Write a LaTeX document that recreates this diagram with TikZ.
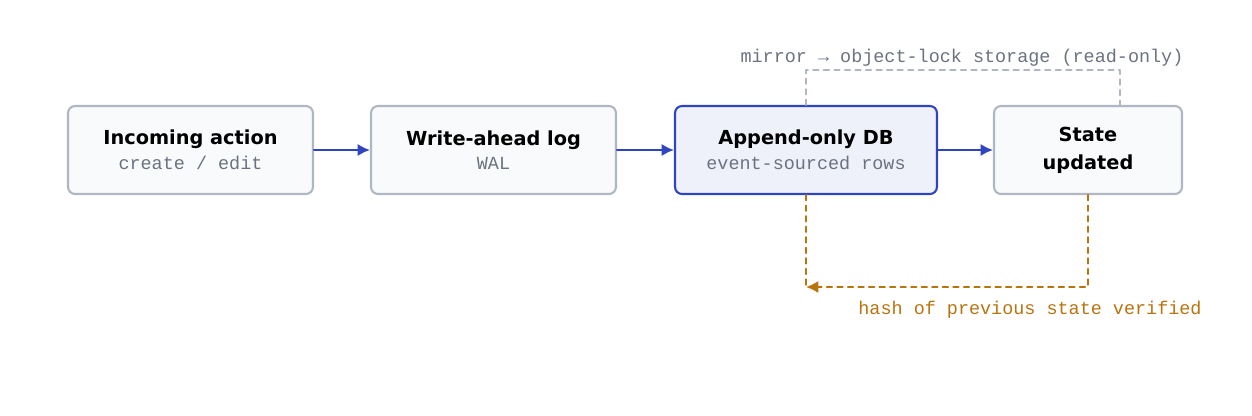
\documentclass[tikz,border=0pt]{standalone}
\usepackage{fontspec}
\setmainfont{DejaVu Sans}
\newfontfamily\monofont{Liberation Mono}
\usetikzlibrary{positioning}
\usetikzlibrary{arrows.meta}
\definecolor{boxline}{HTML}{B0B7C3}
\definecolor{boxfill}{HTML}{F8FAFC}
\definecolor{dbline}{HTML}{2F45C0}
\definecolor{dbfill}{HTML}{EEF1FA}
\definecolor{subtext}{HTML}{6B7280}
\definecolor{hashcol}{HTML}{B8740F}
\newcommand{\subtxt}[1]{{\mdseries\monofont\fontsize{10.5}{13}\selectfont\color{subtext}#1}}
\tikzset{
  stage/.style={draw=boxline, fill=boxfill, line width=1.2pt, rounded corners=4pt,
    minimum height=1.76cm, align=center, font=\bfseries\fontsize{11}{16}\selectfont},
  flow/.style={-{Latex[length=7pt,width=7pt]}, draw=dbline, line width=1.3pt},
  sub/.style={text=subtext, font=\monofont\fontsize{10.5}{13}\selectfont}
}
\begin{document}
\begin{tikzpicture}[x=0.02cm, y=-0.02cm, line cap=round, line join=round]
            \useasboundingbox (0,0) rectangle (1252,416);

            % pipeline stages
            \node[stage, minimum width=4.9cm] (act) at (190.5,150) {Incoming action\\[-2pt]\subtxt{create / edit}};
            \node[stage, minimum width=4.9cm] (wal) at (493.5,150) {Write-ahead log\\[-2pt]\subtxt{WAL}};
            \node[stage, minimum width=5.24cm, draw=dbline, fill=dbfill] (db) at (806,150) {Append-only DB\\[-2pt]\subtxt{event-sourced rows}};
            \node[stage, minimum width=3.76cm] (state) at (1088,150) {State\\updated};

            % forward arrows
            \draw[flow] (act) -- (wal);
            \draw[flow] (wal) -- (db);
            \draw[flow] (db) -- (state);

            % mirror to object-lock storage
            \coordinate (mA) at (806,70);
            \coordinate (mB) at (1120,70);
            \draw[boxline, dashed, line width=1.2pt] (db.north) -- (mA) -- (mB) -- (1120,106);
            \node[sub] (mirror) at (962,58) {mirror \textrightarrow\ object-lock storage (read-only)};

            % hash check
            \coordinate (hc) at (806,287);
            \draw[hashcol, dashed, line width=1.3pt] (db.south) -- (hc);
            \draw[hashcol, dashed, line width=1.3pt, -{Latex[length=7pt,width=7pt]}] (state.south) |- (hc);
            \node[sub, text=hashcol] (hash) at (1030,310) {hash of previous state verified};
        \end{tikzpicture}
\end{document}
